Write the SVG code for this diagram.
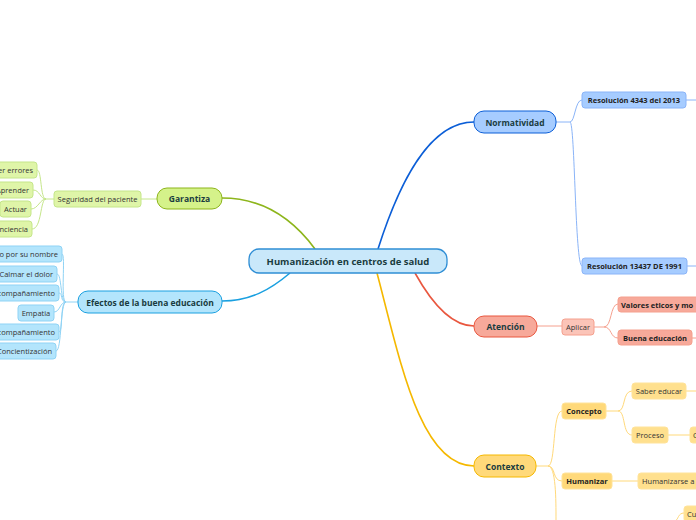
<svg xmlns="http://www.w3.org/2000/svg" width="696" height="520" viewBox="0 0 696 520">
<style>
text{font-family:"Open Sans","DejaVu Sans",sans-serif;font-size:7.5px;fill:#333;dominant-baseline:central}
.b{font-weight:bold;fill:#1a3c40;font-size:8.5px}
.s{font-weight:bold;fill:#222;font-size:7.5px}
</style>
<rect width="696" height="520" fill="#fff"/>
<g id="connectors" fill="none">
<path d="M378 249 C400 180,430 122,474 122" stroke="#0b5ed7" stroke-width="1.6"/>
<path d="M556 122 H570 C575 122,575 100,582 100 M570 122 C575 122,575 266,582 266 M686 100 H696 M687 266 H696" stroke="#8ab4f8"/>
<path d="M415 273 C430 300,450 326,474 326" stroke="#e9573f" stroke-width="1.6"/>
<path d="M537 326 H562 M594 327 H604 C612 327,610 304,618 304 M604 327 C612 327,610 338,618 338 M692 338 H696" stroke="#f5a08e"/>
<path d="M377 273 C400 360,420 466,474 466" stroke="#f5b800" stroke-width="1.6"/>
<path d="M536 466 H548 C556 466,552 411,562 411 M548 466 C556 466,552 481,562 481 M548 466 C556 466,556 500,556 520 M606 411 H618 C626 411,622 391,632 391 M618 411 C626 411,622 435,632 435 M686 391 H696 M668 435 H690 M612 481 H638 M684 513 C678 513,678 520,676 520" stroke="#ffd97a"/>
<path d="M315 249 C290 215,260 198,222 198" stroke="#8db51b" stroke-width="1.6"/>
<path d="M157 199 H141 M54 199 H46 C40 199,42 170,37 170 M46 199 C40 199,40 190,33 190 M46 199 C40 199,38 209,31 209 M46 199 C40 199,42 229,32 229" stroke="#c5e68a"/>
<path d="M290 273 C270 290,250 301,222 301" stroke="#1aa0e0" stroke-width="1.6"/>
<path d="M78 302 H66 C60 302,66 254,62 254 M66 302 C60 302,62 274,57 274 M66 302 C60 302,63 293,59 293 M66 302 C60 302,60 312,54 312 M66 302 C60 302,63 332,59 332 M66 302 C60 302,62 351,56 351" stroke="#8fd3f5"/>
</g>
<g id="center"><rect x="249" y="249" width="198" height="24" rx="10" fill="#c9e8fa" stroke="#2f8ed5" stroke-width="1.3"/><text x="348" y="261" class="b" text-anchor="middle" style="font-size:9.5px">Humanización en centros de salud</text></g>
<g id="normatividad"><rect x="474" y="111" width="82" height="22" rx="10" fill="#a6ccff" stroke="#0b5ed7"/><text x="515" y="122" class="b" text-anchor="middle">Normatividad</text></g>
<g id="res4343"><rect x="582" y="92" width="104" height="16" rx="3" fill="#a6ccff" stroke="#8ab4f8"/><text x="634" y="100" class="s" text-anchor="middle">Resolución 4343 del 2013</text></g>
<g id="res13437"><rect x="582" y="258" width="105" height="16" rx="3" fill="#a6ccff" stroke="#8ab4f8"/><text x="634.5" y="266" class="s" text-anchor="middle">Resolución 13437 DE 1991</text></g>
<g id="atencion"><rect x="474" y="316" width="63" height="21" rx="10" fill="#f7a99a" stroke="#e9573f"/><text x="505.5" y="326.5" class="b" text-anchor="middle">Atención</text></g>
<g id="aplicar"><rect x="562" y="319" width="32" height="16" rx="3" fill="#fbc4b8" stroke="#f5a08e"/><text x="578" y="327" text-anchor="middle">Aplicar</text></g>
<g id="valores"><rect x="618" y="297" width="90" height="15" rx="3" fill="#f7a99a" stroke="#f5a08e"/><text x="621" y="304.5" class="s">Valores eticos y mo</text></g>
<g id="buena"><rect x="618" y="330" width="74" height="15" rx="3" fill="#f7a99a" stroke="#f5a08e"/><text x="655" y="337.5" class="s" text-anchor="middle">Buena educación</text></g>
<g id="contexto"><rect x="474" y="455" width="62" height="22" rx="10" fill="#ffd97a" stroke="#f5b800"/><text x="505" y="466" class="b" text-anchor="middle">Contexto</text></g>
<g id="concepto"><rect x="562" y="403" width="44" height="16" rx="3" fill="#ffd97a" stroke="#ffe39a"/><text x="584" y="411" class="s" text-anchor="middle">Concepto</text></g>
<g id="saber"><rect x="632" y="383" width="54" height="16" rx="3" fill="#ffe08e" stroke="#ffe39a"/><text x="659" y="391" text-anchor="middle">Saber educar</text></g>
<g id="proceso"><rect x="632" y="427" width="36" height="16" rx="3" fill="#ffe08e" stroke="#ffe39a"/><text x="650" y="435" text-anchor="middle">Proceso</text></g>
<g id="proc-child"><rect x="690" y="427" width="20" height="16" rx="3" fill="#ffe08e" stroke="#ffe39a"/><text x="693" y="435">C</text></g>
<g id="humanizar"><rect x="562" y="473" width="50" height="16" rx="3" fill="#ffd97a" stroke="#ffe39a"/><text x="587" y="481" class="s" text-anchor="middle">Humanizar</text></g>
<g id="humanizarse"><rect x="638" y="473" width="70" height="16" rx="3" fill="#ffe08e" stroke="#ffe39a"/><text x="642" y="481">Humanizarse a s</text></g>
<g id="cu"><rect x="684" y="506" width="20" height="16" rx="3" fill="#ffe08e" stroke="#ffe39a"/><text x="687" y="514">Cu</text></g>
<g id="garantiza"><rect x="157" y="188" width="65" height="21" rx="10" fill="#d5f28a" stroke="#8db51b"/><text x="189.5" y="198.5" class="b" text-anchor="middle">Garantiza</text></g>
<g id="seguridad"><rect x="54" y="191" width="87" height="16" rx="3" fill="#dff5a8" stroke="#c5e68a"/><text x="97.5" y="199" text-anchor="middle">Seguridad del paciente</text></g>
<g id="errores"><rect x="-5" y="162" width="42" height="16" rx="3" fill="#dff5a8" stroke="#c5e68a"/><text x="33" y="170" text-anchor="end">er errores</text></g>
<g id="aprender"><rect x="-5" y="182" width="38" height="16" rx="3" fill="#dff5a8" stroke="#c5e68a"/><text x="29" y="190" text-anchor="end">Aprender</text></g>
<g id="actuar"><rect x="0" y="201" width="31" height="16" rx="3" fill="#dff5a8" stroke="#c5e68a"/><text x="15.5" y="209" text-anchor="middle">Actuar</text></g>
<g id="conciencia"><rect x="-5" y="221" width="37" height="16" rx="3" fill="#dff5a8" stroke="#c5e68a"/><text x="28" y="229" text-anchor="end">nciencia</text></g>
<g id="efectos"><rect x="78" y="291" width="144" height="22" rx="10" fill="#b3e5fc" stroke="#1aa0e0"/><text x="150" y="302" class="b" text-anchor="middle">Efectos de la buena educación</text></g>
<g id="nombre"><rect x="-5" y="246" width="67" height="16" rx="3" fill="#b3e5fc" stroke="#8fd3f5"/><text x="58" y="254" text-anchor="end">o por su nombre</text></g>
<g id="dolor"><rect x="-5" y="266" width="62" height="16" rx="3" fill="#b3e5fc" stroke="#8fd3f5"/><text x="53" y="274" text-anchor="end">Calmar el dolor</text></g>
<g id="acomp1"><rect x="-5" y="285" width="64" height="16" rx="3" fill="#b3e5fc" stroke="#8fd3f5"/><text x="55" y="293" text-anchor="end">compañamiento</text></g>
<g id="empatia"><rect x="18" y="305" width="36" height="16" rx="3" fill="#b3e5fc" stroke="#8fd3f5"/><text x="36" y="313" text-anchor="middle">Empatia</text></g>
<g id="acomp2"><rect x="-5" y="324" width="64" height="16" rx="3" fill="#b3e5fc" stroke="#8fd3f5"/><text x="55" y="332" text-anchor="end">compañamiento</text></g>
<g id="concientizacion"><rect x="-5" y="343" width="61" height="16" rx="3" fill="#b3e5fc" stroke="#8fd3f5"/><text x="52" y="351" text-anchor="end">Concientización</text></g>
</svg>
